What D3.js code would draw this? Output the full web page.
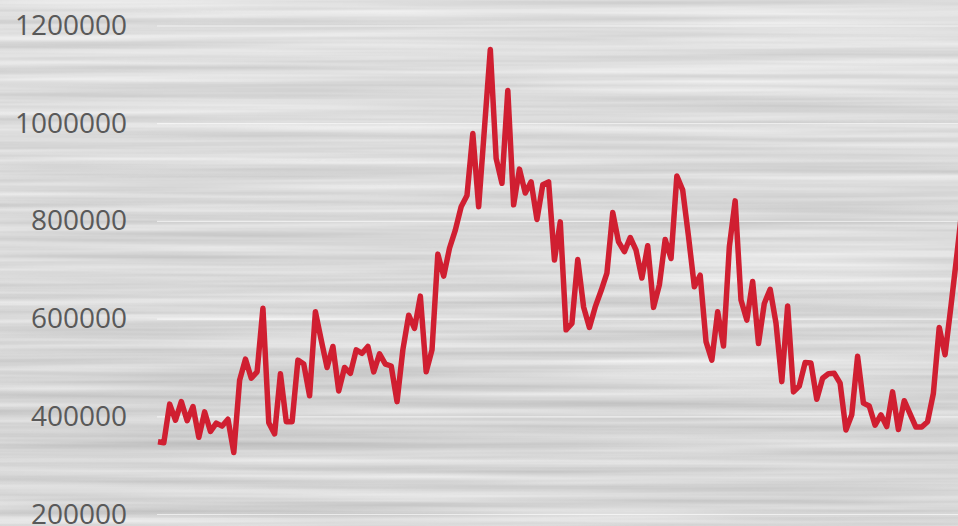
<!DOCTYPE html>
<html>
<head>
<meta charset="utf-8">
<script src="https://cdn.jsdelivr.net/npm/d3@7/dist/d3.min.js"></script>
<style>
  html, body { margin: 0; padding: 0; background: #dadada; overflow: hidden; }
  svg { display: block; }
</style>
</head>
<body>
<svg id="chart" width="958" height="526"></svg>
<script>
// ---- data ----
const yTicks = [200000, 400000, 600000, 800000, 1000000, 1200000];
const yTickLabels = ["200000", "400000", "600000", "800000", "1000000", "1200000"];

const values = [
  349000, 347000, 426000, 393000, 431000, 392000, 421000, 358000, 410000, 370000,
  387000, 381000, 395000, 327000, 475000, 518000, 479000, 492000, 622000, 388000,
  365000, 488000, 390000, 390000, 516000, 508000, 443000, 615000, 557000, 501000,
  544000, 453000, 501000, 489000, 537000, 530000, 544000, 492000, 529000, 508000,
  504000, 431000, 537000, 608000, 581000, 647000, 492000, 537000, 733000, 688000,
  745000, 782000, 830000, 853000, 980000, 830000, 991000, 1152000, 929000, 878000,
  1068000, 834000, 907000, 858000, 881000, 804000, 875000, 881000, 721000, 799000,
  578000, 591000, 722000, 625000, 583000, 625000, 658000, 694000, 818000, 758000,
  738000, 767000, 741000, 684000, 750000, 624000, 670000, 763000, 724000, 893000,
  864000, 769000, 666000, 690000, 554000, 516000, 615000, 545000, 748000, 842000,
  639000, 598000, 677000, 550000, 632000, 661000, 592000, 472000, 627000, 451000,
  463000, 511000, 510000, 436000, 479000, 488000, 489000, 469000, 373000, 404000,
  524000, 428000, 422000, 383000, 404000, 380000, 451000, 374000, 433000, 406000,
  379000, 379000, 390000, 448000, 583000, 527000, 625000, 728000, 835000
];
const categories = d3.range(values.length); // sequential periods

// ---- layout ----
const W = 958, H = 526;
const svg = d3.select("#chart");
const defs = svg.append("defs");

// brushed-metal texture
const f = defs.append("filter").attr("id", "brushed")
  .attr("filterUnits", "userSpaceOnUse")
  .attr("x", 0).attr("y", 0).attr("width", W).attr("height", H)
  .attr("color-interpolation-filters", "sRGB");
f.append("feTurbulence").attr("type", "fractalNoise")
  .attr("baseFrequency", "0.002 0.12").attr("numOctaves", 3).attr("seed", 11).attr("result", "noise");
f.append("feColorMatrix").attr("type", "matrix")
  .attr("values", "0.22 0 0 0 0.745  0.22 0 0 0 0.745  0.22 0 0 0 0.745  0 0 0 0 1");

svg.append("rect").attr("width", W).attr("height", H).attr("filter", "url(#brushed)");

// soft lighting overlay
const g1 = defs.append("linearGradient").attr("id", "shade").attr("x1", 0).attr("y1", 0).attr("x2", 0).attr("y2", 1);
g1.append("stop").attr("offset", "0").attr("stop-color", "#ffffff").attr("stop-opacity", 0.14);
g1.append("stop").attr("offset", "0.45").attr("stop-color", "#ffffff").attr("stop-opacity", 0.0);
g1.append("stop").attr("offset", "0.8").attr("stop-color", "#000000").attr("stop-opacity", 0.03);
g1.append("stop").attr("offset", "1").attr("stop-color", "#ffffff").attr("stop-opacity", 0.02);
svg.append("rect").attr("width", W).attr("height", H).attr("fill", "url(#shade)");

// ---- scales ----
const x = d3.scaleLinear().domain([0, 137]).range([158, 956.7]);
const y = d3.scaleLinear().domain([200000, 1200000]).range([514.5, 26]);

// gridlines
svg.append("g").selectAll("line").data(yTicks).join("line")
  .attr("x1", 157).attr("x2", W)
  .attr("y1", d => y(d)).attr("y2", d => y(d))
  .attr("stroke", "#ffffff").attr("stroke-opacity", 0.6).attr("stroke-width", 1.2);

// y-axis labels
const yAxis = d3.axisLeft(y).tickValues(yTicks)
  .tickFormat((d, i) => yTickLabels[i]).tickSize(0).tickPadding(0);
const ax = svg.append("g").attr("transform", "translate(127,0)").call(yAxis);
ax.select(".domain").remove();
ax.selectAll("text")
  .attr("font-family", "'Open Sans', sans-serif")
  .attr("font-size", 28)
  .attr("fill", "#595959")
  .attr("dy", null)
  .attr("dominant-baseline", "alphabetic")
  .attr("transform", "translate(0,8.5)")
  .attr("text-anchor", "end");

// line
const line = d3.line().x((d, i) => x(categories[i])).y(d => y(d));
svg.append("path").datum(values)
  .attr("d", line)
  .attr("fill", "none")
  .attr("stroke", "#d01f31")
  .attr("stroke-width", 5.5)
  .attr("stroke-linejoin", "round")
  .attr("stroke-linecap", "butt");
</script>
</body>
</html>
